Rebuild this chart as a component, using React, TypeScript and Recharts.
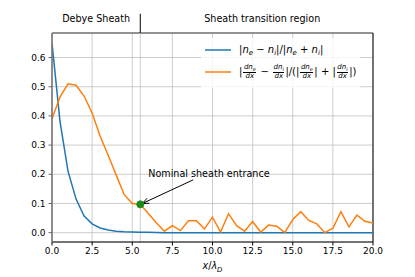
import React from 'react';
import { LineChart, Line, XAxis, YAxis, CartesianGrid, ReferenceLine, ReferenceDot, Legend } from 'recharts';

const xValues = [0, 0.5, 1, 1.5, 2, 2.5, 3, 3.5, 4, 4.5, 5, 5.5, 6, 6.5, 7, 7.5, 8, 8.5, 9, 9.5, 10, 10.5, 11, 11.5, 12, 12.5, 13, 13.5, 14, 14.5, 15, 15.5, 16, 16.5, 17, 17.5, 18, 18.5, 19, 19.5, 20];
const chargeImbalance = [0.65, 0.38, 0.21, 0.115, 0.057, 0.03, 0.016, 0.009, 0.005, 0.003, 0.002, 0.001, 0.001, 0.0005, 0, 0, 0, 0, 0, 0, 0, 0, 0, 0, 0, 0, 0, 0, 0, 0, 0, 0, 0, 0, 0, 0, 0, 0, 0, 0, 0];
const gradientImbalance = [0.39, 0.465, 0.51, 0.505, 0.468, 0.41, 0.33, 0.265, 0.197, 0.13, 0.1, 0.097, 0.066, 0.034, 0.005, 0.024, 0.007, 0.041, 0.041, 0.013, 0.053, 0.002, 0.065, 0.024, 0.005, 0.038, 0.002, 0.026, 0.022, 0.0, 0.045, 0.072, 0.042, 0.03, 0.0, 0.015, 0.072, 0.02, 0.06, 0.039, 0.033];
const xTicks = [0, 2.5, 5, 7.5, 10, 12.5, 15, 17.5, 20];
const yTicks = [0, 0.1, 0.2, 0.3, 0.4, 0.5, 0.6];
const sheathEntrance = { x: 5.5, y: 0.097 };
const regionLabels = [
  { x: 2.75, text: 'Debye Sheath' },
  { x: 13.1, text: 'Sheath transition region' },
];
const annotationText = 'Nominal sheath entrance';
const annotationTextPos = { x: 6.0, y: 0.19 };
const arrowTail = { x: 8.8, y: 0.181 };
const arrowTip = { x: 5.63, y: 0.1 };

const Y_MIN = -0.032;
const Y_MAX = 0.684;
const HEADER_Y = 0.732;
const SEP_TOP = 0.75;

const data = xValues.map((x, i) => ({ x, a: chargeImbalance[i], b: gradientImbalance[i] }));

const FONT = '"DejaVu Sans", sans-serif';

const Sub = ({ children }: { children: React.ReactNode }) => (
  <span style={{ fontSize: 7, position: 'relative', top: 2.5, fontStyle: 'italic' }}>{children}</span>
);
const N = () => <span style={{ fontStyle: 'italic' }}>n</span>;

const Frac = ({ sub }: { sub: string }) => (
  <span style={{ display: 'inline-flex', flexDirection: 'column', alignItems: 'center', fontSize: 7, lineHeight: '7.5px', verticalAlign: 'middle', margin: '0 1px' }}>
    <span style={{ borderBottom: '0.7px solid #000', padding: '0 0.5px', fontStyle: 'italic' }}>
      dn<span style={{ fontSize: 5, position: 'relative', top: 1.5 }}>{sub}</span>
    </span>
    <span style={{ fontStyle: 'italic' }}>dx</span>
  </span>
);

const LegendContent = () => (
  <div style={{ fontFamily: FONT, fontSize: 10, color: '#000', background: 'rgba(255,255,255,0.8)', padding: '3px 4px', lineHeight: '12px' }}>
    <div style={{ display: 'flex', alignItems: 'center', height: 18 }}>
      <svg width={26} height={4} style={{ marginRight: 8 }}><line x1={0} y1={2} x2={26} y2={2} stroke="#1f77b4" strokeWidth={1.5} /></svg>
      <span style={{ whiteSpace: 'nowrap' }}>|<N /><Sub>e</Sub> − <N /><Sub>i</Sub>|/|<N /><Sub>e</Sub> + <N /><Sub>i</Sub>|</span>
    </div>
    <div style={{ display: 'flex', alignItems: 'center', height: 26 }}>
      <svg width={26} height={4} style={{ marginRight: 8 }}><line x1={0} y1={2} x2={26} y2={2} stroke="#ff7f0e" strokeWidth={1.5} /></svg>
      <span style={{ whiteSpace: 'nowrap' }}>|<Frac sub="e" /> − <Frac sub="i" />|/(|<Frac sub="e" />| + |<Frac sub="i" />|)</span>
    </div>
  </div>
);

const ArrowShape = (props: any) => {
  const { x1, y1, x2, y2 } = props;
  const ang = Math.atan2(y2 - y1, x2 - x1);
  const len = 7;
  const spread = 0.4;
  const ax = x2 - len * Math.cos(ang - spread);
  const ay = y2 - len * Math.sin(ang - spread);
  const bx = x2 - len * Math.cos(ang + spread);
  const by = y2 - len * Math.sin(ang + spread);
  return (
    <g>
      <line x1={x1} y1={y1} x2={x2} y2={y2} stroke="#000" strokeWidth={1} />
      <polyline points={`${ax},${ay} ${x2},${y2} ${bx},${by}`} fill="none" stroke="#000" strokeWidth={1} />
    </g>
  );
};

const XLabel = (props: any) => {
  const vb = props.viewBox || {};
  const cx = vb.x + vb.width / 2;
  const y = vb.y + 27;
  return (
    <text x={cx} y={y} textAnchor="middle" fontFamily={FONT} fontSize={9.6} fill="#000">
      <tspan fontStyle="italic">x</tspan>
      <tspan>/</tspan>
      <tspan fontStyle="italic">λ</tspan>
      <tspan fontStyle="italic" fontSize={7} dy={2.5}>D</tspan>
    </text>
  );
};

const makeTextLabel = (text: string, anchor: 'start' | 'middle') => (props: any) => {
  const vb = props.viewBox || {};
  return (
    <text x={vb.x} y={vb.y} textAnchor={anchor} dominantBaseline={anchor === 'middle' ? 'central' : 'auto'} fontFamily={FONT} fontSize={9.6} fill="#000">
      {text}
    </text>
  );
};

export default function App() {
  return (
    <div style={{ position: 'absolute', left: 0, top: 0, width: 415, height: 277, background: '#fff' }}>
      <LineChart width={415} height={277} data={data} margin={{ top: 33, right: 42, left: 0, bottom: 0 }}>
        <CartesianGrid stroke="#c0c0c0" strokeWidth={0.8} />
        <XAxis
          type="number"
          dataKey="x"
          domain={[0, 20]}
          ticks={xTicks}
          tickFormatter={(v: number) => v.toFixed(1)}
          tick={{ fontSize: 9, fill: '#000', fontFamily: FONT }}
          tickLine={{ stroke: '#000' }}
          tickSize={3.5}
          tickMargin={2}
          axisLine={{ stroke: '#000', strokeWidth: 1 }}
          height={35}
          allowDataOverflow
          label={<XLabel />}
        />
        <YAxis
          type="number"
          domain={[Y_MIN, Y_MAX]}
          ticks={yTicks}
          tickFormatter={(v: number) => v.toFixed(1)}
          tick={{ fontSize: 9, fill: '#000', fontFamily: FONT }}
          tickLine={{ stroke: '#666' }}
          tickSize={3.5}
          tickMargin={3}
          axisLine={{ stroke: '#777', strokeWidth: 1.6 }}
          width={52}
          allowDataOverflow
        />
        <ReferenceLine y={Y_MAX} stroke="#777" strokeWidth={1.6} />
        <ReferenceLine x={20} stroke="#000" strokeWidth={1} />
        <ReferenceLine x={sheathEntrance.x} stroke="#c0c0c0" strokeWidth={0.8} />
        <ReferenceLine
          segment={[{ x: sheathEntrance.x, y: Y_MAX }, { x: sheathEntrance.x, y: SEP_TOP }]}
          stroke="#000"
          strokeWidth={1}
          ifOverflow="visible"
        />
        {regionLabels.map((r) => (
          <ReferenceDot key={r.text} x={r.x} y={HEADER_Y} r={0} ifOverflow="visible" label={makeTextLabel(r.text, 'middle')} />
        ))}
        <Line type="linear" dataKey="a" stroke="#1f77b4" strokeWidth={1.5} dot={false} isAnimationActive={false} />
        <Line type="linear" dataKey="b" stroke="#ff7f0e" strokeWidth={1.5} dot={false} isAnimationActive={false} />
        <ReferenceLine segment={[arrowTail, arrowTip]} shape={ArrowShape} ifOverflow="visible" />
        <ReferenceDot x={annotationTextPos.x} y={annotationTextPos.y} r={0} ifOverflow="visible" label={makeTextLabel(annotationText, 'start')} />
        <ReferenceDot x={sheathEntrance.x} y={sheathEntrance.y} r={3.5} fill="#1a8c1a" stroke="#1a8c1a" />
        <Legend
          layout="vertical"
          align="center"
          verticalAlign="middle"
          content={<LegendContent />}
          wrapperStyle={{ position: 'absolute', left: 201, top: 38, width: 'auto', height: 'auto' }}
        />
      </LineChart>
    </div>
  );
}
